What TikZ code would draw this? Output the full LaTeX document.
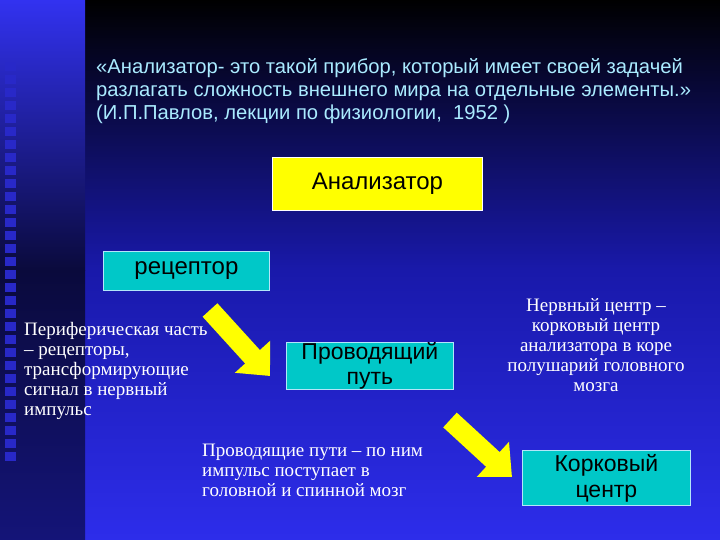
\documentclass[tikz,border=0pt]{standalone}
\usepackage{fontspec}
\setmainfont{Liberation Serif}
\setsansfont{Liberation Sans}
\usetikzlibrary{arrows.meta}
\definecolor{boxcyan}{RGB}{0,200,200}
\definecolor{quote}{RGB}{170,235,255}
\definecolor{ybox}{RGB}{255,255,0}
\definecolor{bgmid}{RGB}{25,25,170}
\definecolor{bgbot}{RGB}{45,45,235}
\definecolor{stript}{RGB}{50,50,240}
\definecolor{stripm}{RGB}{10,10,60}
\definecolor{stripb}{RGB}{20,20,120}
\definecolor{sq}{RGB}{40,40,200}
\tikzset{
  cbox/.style={draw=white!70!cyan, line width=0.8pt, fill=boxcyan, font=\sffamily, text=black, align=center, inner sep=0pt},
  wtext/.style={text=white, align=left, anchor=north west, inner sep=0pt, font=\fontsize{19}{20}\selectfont},
  yarrow/.style={ybox, line width=20pt, -{Triangle[width=46pt,length=26pt]}}
}
\begin{document}
\begin{tikzpicture}[x=1pt,y=-1pt]
\useasboundingbox (0,0) rectangle (720,540);
\shade[top color=black, bottom color=bgbot, middle color=bgmid] (85,0) rectangle (720,540);
\shade[top color=stript, bottom color=stripm] (0,0) rectangle (85,270);
\shade[top color=stripm, bottom color=stripb] (0,270) rectangle (85,540);
\foreach \i in {0,...,30} \fill[sq] (5,62+\i*13) rectangle (16,71+\i*13);
\node[anchor=north west, inner sep=0pt, text=quote, align=left, font=\sffamily\fontsize{20.2}{23}\selectfont] (q) at (96,58)
 {«Анализатор- это такой прибор, который имеет своей задачей\\разлагать сложность внешнего мира на отдельные элементы.»\\(И.П.Павлов, лекции по физиологии,\ \ 1952 )};
\node[cbox, fill=ybox, draw=white, minimum width=210, minimum height=53, anchor=north west, font=\sffamily\fontsize{24}{26}\selectfont] (an) at (272,157) {Анализатор};
\node[cbox, minimum width=166, minimum height=39, anchor=north west, font=\sffamily\fontsize{24}{26}\selectfont] (rec) at (103,251) {рецептор};
\node[cbox, minimum width=167, minimum height=47, anchor=north west, font=\sffamily\fontsize{23}{25}\selectfont] (pp) at (286,342) {Проводящий\\путь};
\node[cbox, minimum width=168, minimum height=55, anchor=north west, font=\sffamily\fontsize{23}{26}\selectfont] (kc) at (522,450) {Корковый\\центр};
\node[wtext] (t1) at (24,322) {Периферическая часть\\– рецепторы,\\трансформирующие\\сигнал в нервный\\импульс};
\node[wtext] (t2) at (202,444) {Проводящие пути – по ним\\импульс поступает в\\головной и спинной мозг};
\node[wtext, align=center, anchor=north] (t3) at (596,298) {Нервный центр –\\корковый центр\\анализатора в коре\\полушарий головного\\мозга};
\coordinate (a1s) at (210,310);
\coordinate (a1e) at (270,376);
\coordinate (a2s) at (450,420);
\coordinate (a2e) at (512,477);
\draw[yarrow] (a1s) -- (a1e);
\draw[yarrow] (a2s) -- (a2e);
\end{tikzpicture}
\end{document}
